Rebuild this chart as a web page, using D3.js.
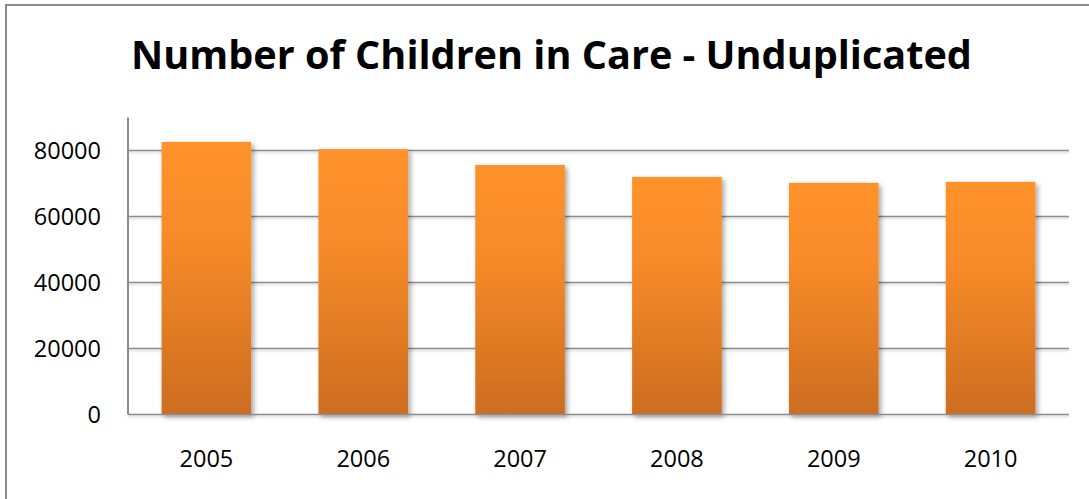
<!DOCTYPE html>
<html>
<head>
<meta charset="utf-8">
<script src="https://cdn.jsdelivr.net/npm/d3@7/dist/d3.min.js"></script>
<style>
  html, body { margin: 0; padding: 0; background: #fff; }
  svg { display: block; }
  text { font-family: "Open Sans", "Liberation Sans", sans-serif; fill: #000; }
</style>
</head>
<body>
<svg id="chart" width="1089" height="499"></svg>
<script>
// Children in care (unduplicated count) by year
const years = ["2005", "2006", "2007", "2008", "2009", "2010"];
const children = [82600, 80400, 75600, 72000, 70200, 70500];
const yTicks = [0, 20000, 40000, 60000, 80000];
const yMax = 90000;
const title = "Number of Children in Care - Unduplicated";

const svg = d3.select("#chart");
const W = 1089, H = 499;
const plot = { left: 128, right: 1069, top: 117.5, bottom: 414.5 };

const defs = svg.append("defs");
const grad = defs.append("linearGradient")
  .attr("id", "barFill").attr("x1", 0).attr("y1", 0).attr("x2", 0).attr("y2", 1);
grad.append("stop").attr("offset", "0%").attr("stop-color", "#ff922b");
grad.append("stop").attr("offset", "35%").attr("stop-color", "#f78b29");
grad.append("stop").attr("offset", "100%").attr("stop-color", "#cd6d20");

const shadow = defs.append("filter").attr("id", "barShadow")
  .attr("x", "-10%").attr("y", "-10%").attr("width", "130%").attr("height", "130%");
shadow.append("feDropShadow").attr("dx", 2.5).attr("dy", 2.5).attr("stdDeviation", 2.5)
  .attr("flood-color", "#000").attr("flood-opacity", 0.35);

// soft shadow under horizontal rules; user-space region so zero-height lines still render
const lineShadow = defs.append("filter").attr("id", "lineShadow")
  .attr("filterUnits", "userSpaceOnUse")
  .attr("x", 0).attr("y", 0).attr("width", W).attr("height", H);
lineShadow.append("feDropShadow").attr("dx", 0).attr("dy", 1.5).attr("stdDeviation", 0.8)
  .attr("flood-color", "#000").attr("flood-opacity", 0.2);

// outer frame (left and top edges)
svg.append("path")
  .attr("d", `M6,${H} L6,5 L${W},5`)
  .attr("fill", "none").attr("stroke", "#8a8a8a").attr("stroke-width", 2);

// title, fitted to its width
const titleText = svg.append("text")
  .attr("x", (131 + 972) / 2).attr("y", 69)
  .attr("text-anchor", "middle")
  .attr("font-weight", "bold")
  .attr("font-size", 38)
  .text(title);
const tw = titleText.node().getComputedTextLength();
titleText.attr("font-size", 38 * 841 / tw);

const x = d3.scaleBand().domain(years).range([plot.left, plot.right]).paddingInner(0.4286).paddingOuter(0.2143);
const y = d3.scaleLinear().domain([0, yMax]).range([plot.bottom, plot.top]);

// gridlines
svg.append("g").attr("filter", "url(#lineShadow)")
  .selectAll("line").data(yTicks.filter(d => d > 0)).join("line")
  .attr("x1", plot.left).attr("x2", plot.right)
  .attr("y1", d => y(d)).attr("y2", d => y(d))
  .attr("stroke", "#8c8c8c").attr("stroke-width", 1.6);

// bars
svg.append("g").selectAll("rect").data(years).join("rect")
  .attr("x", d => x(d))
  .attr("width", x.bandwidth())
  .attr("y", (d, i) => y(children[i]))
  .attr("height", (d, i) => y(0) - y(children[i]))
  .attr("fill", "url(#barFill)")
  .attr("filter", "url(#barShadow)");

// axis lines
svg.append("line")
  .attr("x1", plot.left).attr("x2", plot.right)
  .attr("y1", y(0)).attr("y2", y(0))
  .attr("stroke", "#8c8c8c").attr("stroke-width", 1.6)
  .attr("filter", "url(#lineShadow)");
svg.append("line")
  .attr("x1", plot.left).attr("x2", plot.left)
  .attr("y1", plot.top).attr("y2", y(0))
  .attr("stroke", "#8c8c8c").attr("stroke-width", 2);

// y tick labels
const yAxis = d3.axisLeft(y).tickValues(yTicks).tickSize(0).tickPadding(0).tickFormat(d3.format("d"));
const gy = svg.append("g").attr("transform", "translate(101,0)").call(yAxis);
gy.select(".domain").remove();
gy.selectAll("text")
  .attr("font-size", 23.5)
  .attr("font-family", "'Open Sans', sans-serif")
  .attr("fill", "#000")
  .attr("dy", "0.36em");

// x tick labels
const xAxis = d3.axisBottom(x).tickSize(0).tickPadding(0);
const gx = svg.append("g").attr("transform", "translate(0,467)").call(xAxis);
gx.select(".domain").remove();
gx.selectAll("text")
  .attr("font-size", 23.5)
  .attr("font-family", "'Open Sans', sans-serif")
  .attr("fill", "#000")
  .attr("dy", 0)
  .attr("y", 0);
</script>
</body>
</html>
